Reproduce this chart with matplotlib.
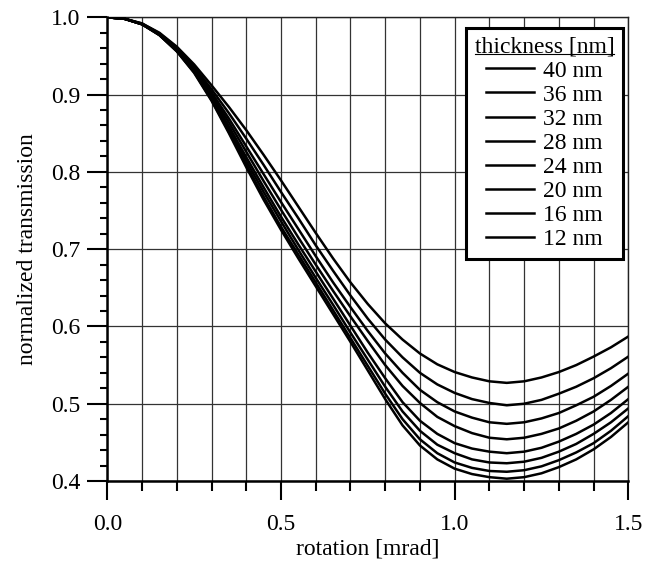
import matplotlib
matplotlib.use("Agg")
import matplotlib.pyplot as plt
from matplotlib.lines import Line2D
from matplotlib.ticker import MultipleLocator, FormatStrFormatter

plt.rcParams['font.family'] = ['Liberation Serif', 'DejaVu Serif']

# rotation [mrad]
rotation = [0.00, 0.05, 0.10, 0.15, 0.20, 0.25, 0.30, 0.35, 0.40, 0.45,
            0.50, 0.55, 0.60, 0.65, 0.70, 0.75, 0.80, 0.85, 0.90, 0.95,
            1.00, 1.05, 1.10, 1.15, 1.20, 1.25, 1.30, 1.35, 1.40, 1.45, 1.50]

# normalized transmission for each thickness
t40 = [1.000, 0.998, 0.992, 0.980, 0.962, 0.939, 0.912, 0.884, 0.854, 0.822,
       0.789, 0.755, 0.721, 0.688, 0.657, 0.629, 0.604, 0.583, 0.565, 0.551,
       0.541, 0.534, 0.529, 0.527, 0.529, 0.534, 0.541, 0.550, 0.561, 0.573, 0.587]
t36 = [1.000, 0.998, 0.992, 0.979, 0.961, 0.936, 0.907, 0.876, 0.843, 0.809,
       0.774, 0.740, 0.705, 0.672, 0.640, 0.610, 0.583, 0.560, 0.540, 0.525,
       0.514, 0.506, 0.501, 0.498, 0.500, 0.505, 0.513, 0.522, 0.533, 0.546, 0.561]
t32 = [1.000, 0.998, 0.991, 0.979, 0.959, 0.934, 0.903, 0.869, 0.833, 0.797,
       0.761, 0.726, 0.691, 0.657, 0.625, 0.594, 0.565, 0.540, 0.518, 0.502,
       0.490, 0.482, 0.476, 0.474, 0.476, 0.481, 0.488, 0.498, 0.509, 0.523, 0.539]
t28 = [1.000, 0.998, 0.991, 0.978, 0.958, 0.933, 0.900, 0.864, 0.826, 0.788,
       0.751, 0.715, 0.680, 0.646, 0.613, 0.581, 0.550, 0.523, 0.501, 0.483,
       0.471, 0.462, 0.456, 0.454, 0.456, 0.461, 0.468, 0.478, 0.490, 0.505, 0.522]
t24 = [1.000, 0.998, 0.991, 0.978, 0.958, 0.931, 0.897, 0.859, 0.819, 0.780,
       0.742, 0.706, 0.671, 0.636, 0.601, 0.566, 0.533, 0.502, 0.478, 0.461,
       0.449, 0.442, 0.438, 0.436, 0.438, 0.443, 0.451, 0.461, 0.473, 0.488, 0.506]
t20 = [1.000, 0.998, 0.991, 0.977, 0.957, 0.930, 0.895, 0.856, 0.814, 0.774,
       0.736, 0.699, 0.663, 0.628, 0.592, 0.557, 0.522, 0.490, 0.465, 0.447,
       0.436, 0.428, 0.424, 0.423, 0.425, 0.430, 0.438, 0.448, 0.461, 0.476, 0.494]
t16 = [1.000, 0.998, 0.991, 0.977, 0.956, 0.929, 0.893, 0.852, 0.809, 0.768,
       0.729, 0.693, 0.657, 0.621, 0.585, 0.549, 0.513, 0.480, 0.454, 0.436,
       0.424, 0.417, 0.413, 0.412, 0.414, 0.419, 0.427, 0.437, 0.449, 0.465, 0.484]
t12 = [1.000, 0.998, 0.991, 0.977, 0.956, 0.928, 0.892, 0.850, 0.806, 0.764,
       0.725, 0.688, 0.652, 0.616, 0.580, 0.543, 0.506, 0.472, 0.446, 0.428,
       0.416, 0.409, 0.405, 0.403, 0.405, 0.410, 0.418, 0.428, 0.441, 0.457, 0.476]

series = [t40, t36, t32, t28, t24, t20, t16, t12]
labels = ["40 nm", "36 nm", "32 nm", "28 nm", "24 nm", "20 nm", "16 nm", "12 nm"]

fs = 17

fig = plt.figure(figsize=(6.52, 5.63), dpi=100)
ax = fig.add_axes([0.1646, 0.1456, 0.7991, 0.8237])

for vals, lab in zip(series, labels):
    ax.plot(rotation, vals, color="black", lw=1.8, label=lab, zorder=3)

ax.set_xlim(0, 1.5)
ax.set_ylim(0.4, 1.0)
ax.xaxis.set_major_locator(MultipleLocator(0.5))
ax.xaxis.set_minor_locator(MultipleLocator(0.1))
ax.yaxis.set_major_locator(MultipleLocator(0.1))
ax.yaxis.set_minor_locator(MultipleLocator(0.02))
ax.xaxis.set_major_formatter(FormatStrFormatter("%.1f"))
ax.yaxis.set_major_formatter(FormatStrFormatter("%.1f"))

ax.set_axisbelow(True)
ax.grid(which="major", axis="both", color="#333333", lw=0.9)
ax.grid(which="minor", axis="x", color="#333333", lw=0.9)

ax.tick_params(axis="y", which="major", direction="out", length=14.4, width=1.5,
               labelsize=fs, pad=5, right=False)
ax.tick_params(axis="y", which="minor", direction="out", length=5.2, width=1.5, right=False)
ax.tick_params(axis="x", which="major", direction="out", length=14, width=1.5,
               labelsize=fs, pad=10, top=False)
ax.tick_params(axis="x", which="minor", direction="out", length=7.5, width=1.5, top=False)

for side in ["left", "bottom"]:
    ax.spines[side].set_linewidth(1.8)
for side in ["top", "right"]:
    ax.spines[side].set_linewidth(1.0)
    ax.spines[side].set_color("#222222")

ax.set_xlabel("rotation [mrad]", fontsize=fs, labelpad=2)
ax.set_ylabel("normalized transmission", fontsize=fs, labelpad=9)

leg = ax.legend(title="thickness [nm]", loc="upper right", bbox_to_anchor=(0.9893, 0.9769),
                borderaxespad=0, fontsize=fs, title_fontsize=fs, frameon=True,
                fancybox=False, framealpha=1, edgecolor="black", handlelength=2.03,
                handletextpad=0.41, labelspacing=0.11, borderpad=0.36, alignment="center")
leg.get_frame().set_linewidth(2.2)

# underline the legend title
fig.canvas.draw()
bb = leg.get_title().get_window_extent()
inv = fig.transFigure.inverted()
(x0, y0) = inv.transform((bb.x0, bb.y0 + 3.5))
(x1, _) = inv.transform((bb.x1, bb.y0 + 3.5))
fig.add_artist(Line2D([x0, x1], [y0, y0], color="black", lw=0.8, zorder=10))

fig.savefig("out.png", dpi=100)
